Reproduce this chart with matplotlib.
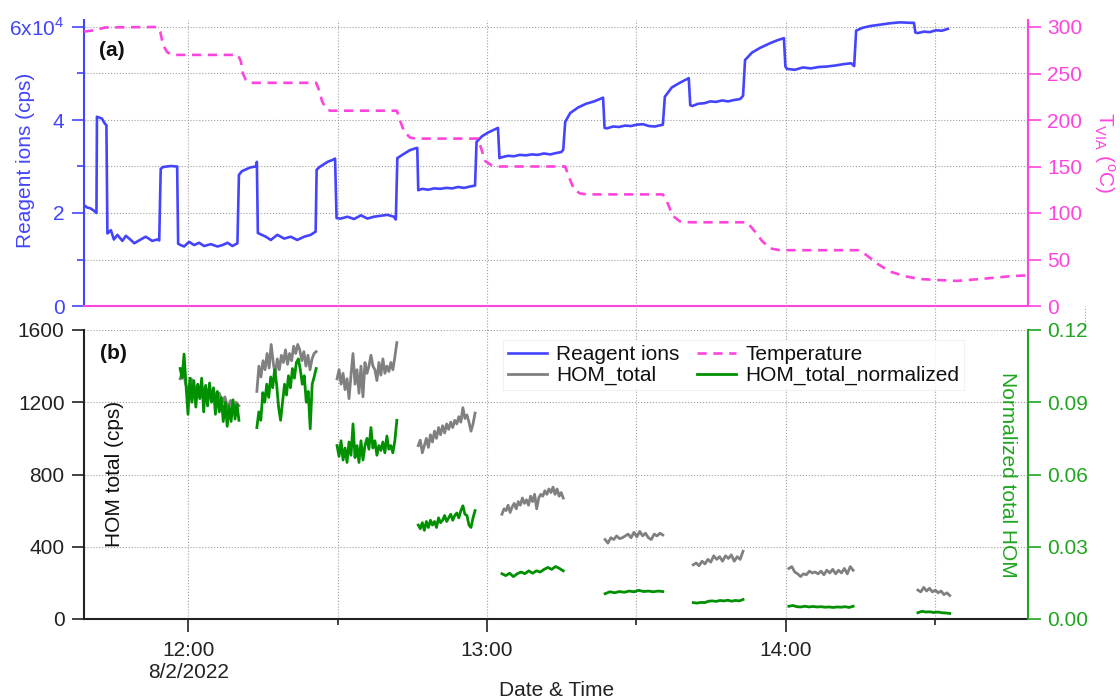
import numpy as np
import matplotlib
matplotlib.use('Agg')
import matplotlib.pyplot as plt
import matplotlib.dates as mdates
from matplotlib.ticker import MultipleLocator, FuncFormatter
from datetime import datetime, timedelta

# ---- data (time in minutes after 12:00 on 8/2/2022) ----
reagent_min = [
    -20.9, -20.3, -19.6, -18.9, -18.4,
    -18.3, -17.3, -16.7, -16.4,
    -16.2, -15.5, -14.9, -14.2, -13.2, -12.5, -11.5, -10.8, -9.2, -8.5, -7.2, -6.2, -5.8,
    -5.5, -5.0, -3.5, -2.2,
    -2.0, -1.5, -0.8, 0.2, 1.2, 2.2, 3.2, 4.55, 5.9, 6.9, 7.9, 8.9, 9.9,
    10.2, 10.8, 12.5, 13.6, 13.8,
    14.0, 15.6, 16.6, 17.9, 19.3, 20.6, 21.9, 23.3, 24.6, 25.6,
    25.8, 26.4, 28.0, 29.2, 29.5,
    29.8, 30.6, 32.0, 33.3, 34.7, 36.0, 37.3, 38.7, 40.0, 41.3, 41.7,
    42.0, 43.0, 44.5, 45.6, 46.0,
    46.2, 47.0, 48.2, 49.4, 50.6, 51.8, 53.0, 54.2, 55.4, 56.6, 57.6,
    57.9, 59.0, 60.2, 61.4, 62.2,
    62.5, 63.0, 64.2, 65.4, 66.6, 67.8, 69.0, 70.2, 71.4, 72.7, 73.9, 74.9, 75.3,
    75.7, 76.7, 78.3, 79.9, 81.5, 83.3,
    83.6, 84.1, 85.3, 86.5, 87.7, 88.9, 90.1, 91.3, 92.5, 93.7, 94.9, 95.3,
    95.7, 97.1, 98.7, 100.5,
    100.8, 101.2, 102.4, 103.6, 104.8, 106.0, 107.2, 108.4, 109.6, 110.8, 111.4,
    111.8, 113.2, 114.8, 116.8, 118.4, 119.6,
    119.9, 120.2, 121.8, 123.4, 125.0, 126.6, 128.2, 129.8, 131.5, 133.1, 133.7,
    134.1, 135.3, 136.9, 138.9, 140.9, 142.9, 144.9, 145.7,
    146.0, 146.5, 147.7, 148.9, 150.1, 151.3, 152.5,
]
reagent_cps = [
    21700, 21200, 21000, 20500, 20000,
    40700, 40300, 39200, 38900,
    15600, 16300, 14300, 15300, 14000, 15100, 14200, 13500, 14500, 14900, 14000, 14300, 14100,
    29500, 29900, 30100, 30000,
    13400, 13100, 12800, 13800, 13100, 13600, 12900, 13300, 12800, 13100, 13600, 12900, 13500,
    28200, 29000, 29800, 30000, 31000,
    15700, 14900, 14200, 15300, 14500, 14900, 14200, 14900, 15300, 16000,
    29300, 29900, 31000, 31500, 31700,
    18900, 18800, 19200, 18700, 19500, 18800, 19200, 19400, 19600, 19200, 18600,
    31800, 32500, 33500, 33900, 34000,
    24900, 25200, 25000, 25300, 25200, 25400, 25300, 25600, 25400, 25700, 25900,
    35300, 36500, 37300, 37900, 38300,
    31800, 32000, 32300, 32200, 32500, 32400, 32600, 32500, 32800, 32600, 32900, 33100, 33600,
    39600, 41500, 42700, 43500, 44000, 44800,
    38300, 38200, 38600, 38500, 38800, 38700, 39000, 39100, 38700, 38600, 38900, 39000,
    45000, 47000, 48000, 49000,
    43200, 43000, 43500, 43600, 44000, 43900, 44200, 44000, 44300, 44500, 45200,
    52900, 54500, 55500, 56500, 57200, 57600,
    51500, 51000, 50800, 51300, 51100, 51400, 51500, 51700, 52000, 52200, 51600,
    59200, 59800, 60200, 60500, 60800, 61000, 60900, 60900,
    58800, 58700, 59000, 58900, 59300, 59200, 59600,
]

temp_min = [
    -20.9, -18.3, -16.7, -6.2, -5.6, -5.0, -4.2, -3.2,
    10.0, 10.6, 11.0, 11.6, 12.4,
    25.7, 26.3, 26.9, 27.7, 28.5,
    41.9, 42.5, 43.4, 44.6, 45.6,
    58.2, 58.8, 59.6, 61.0, 62.0,
    75.7, 76.5, 77.5, 78.7, 80.1,
    95.3, 96.3, 97.3, 98.7, 100.8,
    112.2, 113.8, 115.2, 116.8, 118.8,
    134.5, 136.1, 138.5, 140.9, 143.9, 146.9, 150.3, 154.3, 157.9, 161.0, 165.0, 168.6,
]
temp_c = [
    295, 297, 299.5, 300, 295, 280, 273, 270,
    270, 263, 250, 243, 240,
    240, 232, 220, 212, 210,
    210, 200, 187, 181, 180,
    180, 170, 156, 151, 150,
    150, 138, 125, 121, 120,
    120, 110, 97, 91, 90,
    90, 80, 70, 62, 60,
    60, 55, 45, 37, 32, 29, 28, 27, 28.5, 30, 32, 33,
]

# HOM sampling windows (start, end minutes)
hom_windows = [(-1.6, 10.2), (13.8, 25.7), (29.9, 41.9), (46.2, 57.6), (63.0, 75.3),
               (83.7, 95.3), (101.4, 111.4), (120.6, 133.5), (146.5, 152.9)]

hom_total = [
    [1330, 1380, 1300, 1260, 1330, 1250, 1290, 1240, 1280, 1230, 1270, 1220, 1260, 1230,
     1250, 1200, 1230, 1170, 1210, 1160, 1200, 1180],
    [1260, 1400, 1340, 1430, 1380, 1470, 1390, 1520, 1420, 1350, 1440, 1380, 1460, 1420,
     1490, 1410, 1470, 1430, 1510, 1470, 1520, 1490, 1430, 1480, 1400, 1460, 1380, 1440,
     1470, 1480],
    [1330, 1380, 1300, 1360, 1270, 1330, 1220, 1350, 1470, 1300, 1380, 1250, 1400, 1230,
     1420, 1360, 1400, 1460, 1400, 1380, 1320, 1420, 1350, 1440, 1360, 1400, 1370, 1420,
     1380, 1450, 1530],
    [960, 990, 920, 960, 1000, 950, 1020, 980, 1040, 1000, 1060, 1020, 1070, 1030, 1080,
     1050, 1090, 1060, 1100, 1080, 1120, 1090, 1170, 1110, 1130, 1090, 1040, 1080, 1140],
    [580, 610, 600, 630, 590, 620, 640, 610, 650, 630, 670, 640, 660, 630, 680, 650, 690,
     610, 670, 690, 680, 710, 690, 720, 700, 730, 690, 720, 680, 700, 670],
    [440, 420, 450, 440, 460, 445, 450, 460, 470, 450, 480, 455, 485, 460, 475, 450, 440,
     470, 460, 475, 465],
    [300, 310, 295, 320, 305, 330, 315, 350, 330, 345, 320, 350, 335, 355, 320, 345, 330, 375],
    [280, 290, 260, 250, 235, 250, 245, 265, 255, 260, 250, 265, 245, 270, 255, 275, 250,
     270, 255, 280, 250, 290, 270],
    [160, 150, 175, 155, 170, 150, 160, 145, 155, 135, 145, 130],
]

hom_norm = [
    [0.104, 0.100, 0.110, 0.097, 0.085, 0.100, 0.090, 0.099, 0.088, 0.0975, 0.0915, 0.100,
     0.086, 0.097, 0.0885, 0.098, 0.090, 0.096, 0.085, 0.0945, 0.086, 0.092, 0.082, 0.090,
     0.080, 0.0885, 0.082, 0.091, 0.083, 0.089, 0.0825],
    [0.0795, 0.086, 0.0825, 0.094, 0.090, 0.0975, 0.092, 0.1005, 0.096, 0.1035, 0.0975,
     0.088, 0.0825, 0.090, 0.0975, 0.093, 0.101, 0.096, 0.104, 0.100, 0.1065, 0.108, 0.1035,
     0.0975, 0.101, 0.090, 0.0945, 0.079, 0.0975, 0.1005, 0.104],
    [0.072, 0.0675, 0.074, 0.066, 0.071, 0.065, 0.0735, 0.068, 0.081, 0.067, 0.072, 0.065,
     0.074, 0.066, 0.072, 0.075, 0.0705, 0.0795, 0.071, 0.074, 0.068, 0.072, 0.070, 0.0735,
     0.069, 0.076, 0.0705, 0.072, 0.069, 0.074, 0.0825],
    [0.039, 0.0375, 0.040, 0.0368, 0.0405, 0.038, 0.041, 0.039, 0.0405, 0.038, 0.042, 0.040,
     0.041, 0.043, 0.0405, 0.042, 0.0435, 0.041, 0.043, 0.044, 0.042, 0.045, 0.047, 0.0435,
     0.043, 0.039, 0.038, 0.042, 0.045],
    [0.0188, 0.018, 0.019, 0.0176, 0.0188, 0.0195, 0.0188, 0.020, 0.019, 0.020, 0.0195,
     0.0206, 0.0214, 0.0206, 0.0218, 0.021, 0.020],
    [0.0105, 0.0113, 0.0109, 0.0114, 0.0111, 0.0116, 0.0113, 0.0119, 0.0114, 0.0116, 0.0113,
     0.0116, 0.0114],
    [0.0068, 0.0066, 0.0069, 0.0068, 0.0074, 0.0075, 0.0073, 0.0077, 0.0075, 0.0078, 0.0074,
     0.0077, 0.0075, 0.0081],
    [0.0053, 0.0056, 0.0051, 0.0050, 0.0053, 0.0050, 0.0052, 0.0050, 0.0051, 0.0049, 0.0050,
     0.0048, 0.0050, 0.0049, 0.0051, 0.0048, 0.0053],
    [0.0026, 0.0032, 0.0029, 0.0030, 0.0027, 0.0029, 0.0026, 0.0025, 0.0023],
]

x_range_min = [-20.9, 168.6]

# ---- style ----
BLUE = '#4444ff'
PINK = '#ff44dd'
GRAY = '#808080'
GREEN = '#009000'
GREEN_AX = '#1fa51f'
GRID = dict(color='#a0a0a0', linestyle=':', linewidth=0.8)

plt.rc('font', family=['Liberation Sans', 'DejaVu Sans'], size=15)
plt.rc('mathtext', fontset='custom', rm='Liberation Sans')

t0 = datetime(2022, 8, 2, 12, 0)


def to_time(minutes):
    return [t0 + timedelta(minutes=float(m)) for m in minutes]


W, H = 1120, 700
fig = plt.figure(figsize=(W / 100, H / 100), dpi=100)


def px_rect(x0, y0, x1, y1):
    return [x0 / W, 1 - y1 / H, (x1 - x0) / W, (y1 - y0) / H]


# top panel reaches a little above the 6x10^4 / 300 tick
TOP_PX, ZERO_PX, TICK6_PX = 20, 306, 27
head = (ZERO_PX - TOP_PX) / (ZERO_PX - TICK6_PX)

ax = fig.add_axes(px_rect(84, TOP_PX, 1028, ZERO_PX))
tw = ax.twinx()
bx = fig.add_axes(px_rect(84, 330, 1028, 619), sharex=ax)
bw = bx.twinx()

# ---- top panel ----
l_reag, = ax.plot(to_time(reagent_min), reagent_cps, color=BLUE, lw=1.9)
l_temp, = tw.plot(to_time(temp_min), temp_c, color=PINK, lw=1.9, dashes=(3.5, 2.5))

ax.set_xlim(to_time(x_range_min))
ax.set_ylim(0, 6e4 * head)
tw.set_ylim(0, 300 * head)

ax.yaxis.set_major_locator(MultipleLocator(2e4))
ax.yaxis.set_minor_locator(MultipleLocator(1e4))


def reag_fmt(v, pos):
    if v == 0:
        return '0'
    if abs(v - 6e4) < 1:
        return r'6x10$^{\mathregular{4}}$'
    return '%d' % round(v / 1e4)


ax.yaxis.set_major_formatter(FuncFormatter(reag_fmt))
tw.yaxis.set_major_locator(MultipleLocator(50))

for s in ['top', 'right', 'bottom']:
    ax.spines[s].set_visible(False)
ax.spines['left'].set_color(BLUE)
ax.spines['left'].set_linewidth(1.5)
for s in ['top', 'left']:
    tw.spines[s].set_visible(False)
tw.spines['right'].set_color(PINK)
tw.spines['bottom'].set_color(PINK)
tw.spines['right'].set_linewidth(1.5)
tw.spines['bottom'].set_linewidth(1.5)

ax.tick_params(axis='x', which='both', bottom=False, labelbottom=False)
ax.tick_params(axis='y', which='major', colors=BLUE, length=9, width=1.2, pad=5)
ax.tick_params(axis='y', which='minor', colors=BLUE, length=5, width=1.2)
tw.tick_params(axis='y', which='major', colors=PINK, length=9, width=1.2, pad=5)

ax.grid(True, which='both', axis='both', **GRID)

# ---- bottom panel ----
for (a, b), vals in zip(hom_windows, hom_total):
    l_hom, = bx.plot(to_time(np.linspace(a, b, len(vals))), vals, color=GRAY, lw=2.0)
for (a, b), vals in zip(hom_windows, hom_norm):
    l_norm, = bw.plot(to_time(np.linspace(a, b, len(vals))), vals, color=GREEN, lw=2.0)

bx.set_ylim(0, 1600)
bw.set_ylim(0, 0.12)
bx.yaxis.set_major_locator(MultipleLocator(400))
bw.yaxis.set_major_locator(MultipleLocator(0.03))
bw.yaxis.set_major_formatter(FuncFormatter(lambda v, p: '%.2f' % v))

bx.xaxis.set_major_locator(mdates.HourLocator())
bx.xaxis.set_minor_locator(mdates.MinuteLocator(byminute=[30]))


def time_fmt(v, pos):
    d = mdates.num2date(v)
    s = d.strftime('%H:%M')
    if d.hour == 12:
        s += '\n8/2/2022'
    return s


bx.xaxis.set_major_formatter(FuncFormatter(time_fmt))
plt.setp(ax.get_xticklabels(), visible=False)

bx.spines['top'].set_visible(False)
bx.spines['right'].set_visible(False)
for s in ['left', 'bottom']:
    bx.spines[s].set_color('#222222')
    bx.spines[s].set_linewidth(1.5)
for s in ['top', 'left', 'bottom']:
    bw.spines[s].set_visible(False)
bw.spines['right'].set_color(GREEN_AX)
bw.spines['right'].set_linewidth(1.5)

bx.tick_params(axis='x', which='major', length=9, width=1.2, pad=7, colors='#222222')
bx.tick_params(axis='x', which='minor', length=4, width=1.2, colors='#222222')
bx.tick_params(axis='y', which='major', length=9, width=1.2, pad=5, colors='#222222')
bw.tick_params(axis='y', which='major', colors=GREEN_AX, length=9, width=1.2, pad=5)

bx.grid(True, which='both', axis='x', **GRID)
bx.grid(True, which='major', axis='y', **GRID)

# vertical grid continues through the gap between panels
gap_frac = (330 - ZERO_PX) / (619 - 330)
for m in range(0, 181, 30):
    bx.axvline(to_time([m])[0], ymin=1.0, ymax=1.0 + gap_frac, clip_on=False, **GRID)

# ---- labels ----
def ftext(x, y, s, **kw):
    fig.text(x / W, 1 - y / H, s, ha='center', va='center', **kw)


ftext(26, 160, 'Reagent ions (cps)', rotation=90, color=BLUE)
ftext(1104, 153, r'T$_{\mathregular{VIA}}$ ($^{\mathregular{o}}$C)', rotation=270, color=PINK)
ftext(115, 474, 'HOM total (cps)', rotation=90, color='#111111')
ftext(1007, 475, 'Normalized total HOM', rotation=270, color=GREEN_AX)
ftext(112, 51, '(a)', fontweight='bold', color='#111111')
ftext(113, 354, '(b)', fontweight='bold', color='#111111')
ftext(557, 690, 'Date & Time', color='#222222')

leg = bw.legend([l_reag, l_hom, l_temp, l_norm],
                ['Reagent ions', 'HOM_total', 'Temperature', 'HOM_total_normalized'],
                ncol=2, loc='upper left', bbox_to_anchor=(503 / W, 1 - 340 / H),
                bbox_transform=fig.transFigure, fontsize=15, frameon=True,
                fancybox=False, edgecolor='#eeeeee', handlelength=1.85,
                handletextpad=0.45, columnspacing=0.85, labelspacing=0.08,
                borderpad=0.25, borderaxespad=0)
leg.get_frame().set_linewidth(0.8)
for txt in leg.get_texts():
    txt.set_color('#111111')

fig.savefig('out.png', dpi=100)
plt.close(fig)
